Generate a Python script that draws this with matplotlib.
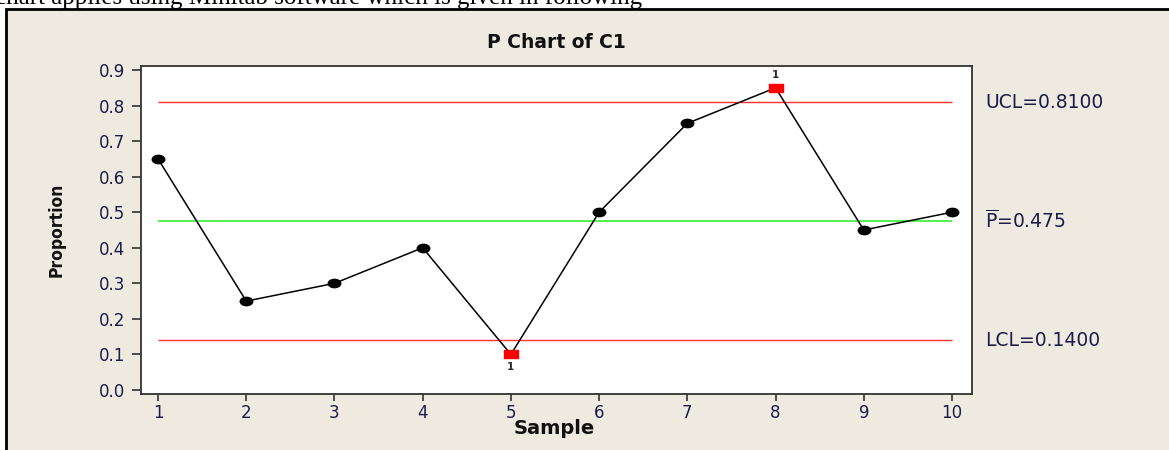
import matplotlib
matplotlib.use("Agg")
import matplotlib.pyplot as plt
from matplotlib.path import Path
from matplotlib.patches import Rectangle
from matplotlib.transforms import Affine2D, blended_transform_factory

samples = [1, 2, 3, 4, 5, 6, 7, 8, 9, 10]
proportions = [0.65, 0.25, 0.30, 0.40, 0.10, 0.50, 0.75, 0.85, 0.45, 0.50]
ucl = 0.8100
pbar = 0.475
lcl = 0.1400
y_ticks = [0.0, 0.1, 0.2, 0.3, 0.4, 0.5, 0.6, 0.7, 0.8, 0.9]

header = "chart applies using Minitab software which is given in following"
bg = "#EEEAE0"
txt = "#1C1C4C"

# minitab's picture is stretched sideways, so squash the markers the same way
dot = Path.unit_circle().transformed(Affine2D().scale(1.5, 1.0))
box = Path([(-1.75, -1), (1.75, -1), (1.75, 1), (-1.75, 1), (-1.75, -1)],
           [Path.MOVETO, Path.LINETO, Path.LINETO, Path.LINETO, Path.CLOSEPOLY])

fig = plt.figure(figsize=(11.69, 4.5), dpi=100)
fig.patch.set_facecolor("white")

frame = Rectangle((6 / 1169, -0.05), 1.1, 1 - 9 / 450 + 0.05,
                  transform=fig.transFigure, facecolor=bg,
                  edgecolor="black", linewidth=2, zorder=0)
fig.add_artist(frame)
# the page text above the screenshot is cut through in the original
fig.text(-0.004, 1 - 4 / 450, header, family="Liberation Serif",
         fontsize=18, va="baseline", ha="left", color="black")

ax = fig.add_axes([141 / 1169, 1 - 394 / 450, 831 / 1169, 328 / 450])
ax.set_facecolor("white")

ax.plot(samples, proportions, color="black", linewidth=1.1, zorder=3)

out_x = [s for s, p in zip(samples, proportions) if p > ucl or p < lcl]
out_y = [p for p in proportions if p > ucl or p < lcl]
in_x = [s for s, p in zip(samples, proportions) if lcl <= p <= ucl]
in_y = [p for p in proportions if lcl <= p <= ucl]
ax.plot(in_x, in_y, linestyle="none", marker=dot, markersize=9,
        color="black", zorder=4)
ax.plot(out_x, out_y, linestyle="none", marker=box, markersize=10,
        color="#FF0000", zorder=4)

for s, p in zip(out_x, out_y):
    dy = 9 if p > ucl else -9
    ax.annotate("1", (s, p), xytext=(0, dy), textcoords="offset points",
                ha="center", va="center", fontsize=7.5, fontweight="bold",
                color="#2A2A2A")

ax.hlines([ucl, lcl], samples[0], samples[-1], color="#FF3030", linewidth=1)
ax.hlines([pbar], samples[0], samples[-1], color="#22EE22", linewidth=1.1)

tr = blended_transform_factory(ax.transAxes, ax.transData)
ax.text(1.0157, ucl, f"UCL={ucl:.4f}", transform=tr, va="center",
        fontsize=13.5, color=txt)
ax.text(1.0157, pbar, r"$\overline{\mathsf{P}}$" + f"={pbar:.3f}", transform=tr,
        va="center", fontsize=13.5, color=txt)
ax.text(1.0157, lcl, f"LCL={lcl:.4f}", transform=tr, va="center",
        fontsize=13.5, color=txt)

ax.set_xlim(0.807, 10.227)
ax.set_ylim(-0.0113, 0.9113)
ax.set_xticks(samples)
ax.set_yticks(y_ticks)
ax.set_yticklabels([f"{v:.1f}" for v in y_ticks])
ax.tick_params(axis="both", direction="out", length=5, width=1.2,
               colors="#333333", labelcolor=txt, labelsize=12)
ax.tick_params(axis="x", pad=2.5)
ax.tick_params(axis="y", length=6.5, pad=5)
for side, sp in ax.spines.items():
    sp.set_color("#333333")
    sp.set_linewidth(1.3)

ax.set_title("P Chart of C1", fontsize=13.5, fontweight="bold", color="#111111",
             pad=13)
ax.set_xlabel("Sample", fontsize=14, fontweight="bold", color="#111111")
ax.xaxis.set_label_coords(0.497, (394 - 419) / 328)
ax.set_ylabel("Proportion", fontsize=12.5, fontweight="bold",
              fontstretch="condensed", color="#111111")
ax.yaxis.set_label_coords((66 - 141) / 831, 0.5)

fig.savefig("out.png", dpi=100, facecolor=fig.get_facecolor())
